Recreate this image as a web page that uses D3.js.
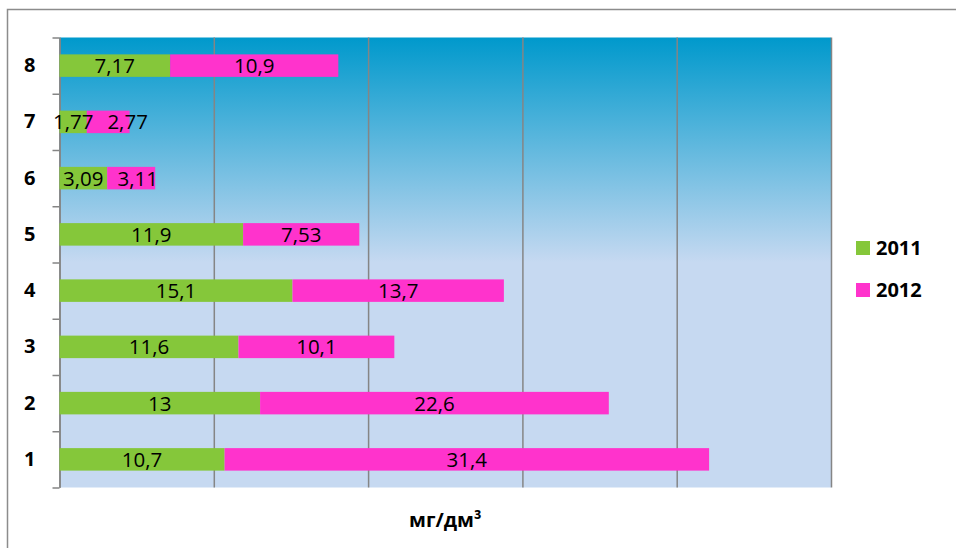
<!DOCTYPE html>
<html>
<head>
<meta charset="utf-8">
<script src="https://cdn.jsdelivr.net/npm/d3@7"></script>
<style>
  html, body { margin: 0; padding: 0; background: #fff; }
  svg { display: block; }
  text { font-family: "Open Sans", "DejaVu Sans", sans-serif; }
</style>
</head>
<body>
<svg id="chart" width="956" height="548"></svg>
<script>
const categories = ["1", "2", "3", "4", "5", "6", "7", "8"];
const values2011 = [10.7, 13, 11.6, 15.1, 11.9, 3.09, 1.77, 7.17];
const values2012 = [31.4, 22.6, 10.1, 13.7, 7.53, 3.11, 2.77, 10.9];
const seriesNames = ["2011", "2012"];
const seriesColors = ["#85c73a", "#ff33cc"];
const xTicks = [0, 10, 20, 30, 40, 50];
const axisTitle = "мг/дм³";

const svg = d3.select("#chart");
const plot = { left: 59.5, right: 831, top: 37.5, bottom: 487.5 };

// outer frame
svg.append("rect")
  .attr("x", 7.5).attr("y", 9.5)
  .attr("width", 1200).attr("height", 800)
  .attr("fill", "none").attr("stroke", "#8c8c8c").attr("stroke-width", 1.5);

// gradient background
const defs = svg.append("defs");
const grad = defs.append("linearGradient")
  .attr("id", "bg").attr("gradientUnits", "userSpaceOnUse")
  .attr("x1", 0).attr("x2", 0).attr("y1", plot.top).attr("y2", plot.bottom);
grad.append("stop").attr("offset", "0").attr("stop-color", "#0099cc");
grad.append("stop").attr("offset", "0.5").attr("stop-color", "#c6d9f1");
grad.append("stop").attr("offset", "1").attr("stop-color", "#c6d9f1");

svg.append("rect")
  .attr("x", plot.left).attr("y", plot.top)
  .attr("width", plot.right - plot.left).attr("height", plot.bottom - plot.top)
  .attr("fill", "url(#bg)");

const x = d3.scaleLinear().domain([0, 50]).range([plot.left, plot.right]);
const y = d3.scaleBand().domain(categories.slice().reverse()).range([plot.top, plot.bottom]);
const yLin = d3.scaleLinear().domain([0, categories.length]).range([plot.bottom, plot.top]);

// vertical gridlines
svg.append("g")
  .attr("transform", `translate(0,${plot.bottom})`)
  .call(d3.axisBottom(x).tickValues(xTicks).tickSize(-(plot.bottom - plot.top)).tickFormat(""))
  .call(g => g.select(".domain").remove())
  .call(g => g.selectAll("line").attr("stroke", "#858585").attr("stroke-width", 1.5));

// y axis tick marks at category boundaries
svg.append("g")
  .attr("transform", `translate(${plot.left},0)`)
  .call(d3.axisLeft(yLin).tickValues(d3.range(0, categories.length + 1)).tickSize(7).tickFormat("").tickSizeOuter(0))
  .call(g => g.selectAll("line").attr("stroke", "#858585").attr("stroke-width", 1.5))
  .call(g => g.select(".domain").attr("stroke", "#858585").attr("stroke-width", 1.5));

// y axis labels
svg.append("g")
  .attr("transform", `translate(${plot.left},0)`)
  .call(d3.axisLeft(y).tickSize(0).tickPadding(24))
  .call(g => g.select(".domain").remove())
  .call(g => g.selectAll("text")
    .attr("font-family", "'Open Sans', sans-serif")
    .attr("font-size", 20).attr("font-weight", "bold").attr("fill", "#000"));

// stacked bars
const rows = categories.map((c, i) => ({ cat: c, v: [values2011[i], values2012[i]] }));
const barH = y.bandwidth() * 0.4;
const segs = [];
rows.forEach(r => {
  let acc = 0;
  r.v.forEach((v, s) => {
    segs.push({ cat: r.cat, s, x0: acc, x1: acc + v, v });
    acc += v;
  });
});

svg.append("g").selectAll("rect").data(segs).join("rect")
  .attr("x", d => x(d.x0))
  .attr("y", d => y(d.cat) + (y.bandwidth() - barH) / 2)
  .attr("width", d => x(d.x1) - x(d.x0))
  .attr("height", barH)
  .attr("fill", d => seriesColors[d.s]);

const fmt = v => String(v).replace(".", ",");
const labels = svg.append("g").selectAll("text").data(segs).join("text")
  .attr("x", d => (x(d.x0) + x(d.x1)) / 2)
  .attr("y", d => y(d.cat) + y.bandwidth() / 2)
  .attr("dy", "0.36em")
  .attr("text-anchor", "middle")
  .attr("font-size", 20.5)
  .attr("fill", "#000")
  .text(d => fmt(d.v));

// nudge overlapping labels apart within each row
const minGap = 14;
categories.forEach(c => {
  const nodes = labels.filter(d => d.cat === c).nodes();
  for (let i = 1; i < nodes.length; i++) {
    const a = nodes[i - 1].getBBox(), b = nodes[i].getBBox();
    const deficit = (a.x + a.width + minGap) - b.x;
    if (deficit > 0) {
      const cur = +nodes[i].getAttribute("x");
      nodes[i].setAttribute("x", cur + deficit);
    }
  }
});

// legend
const legend = svg.append("g");
seriesNames.forEach((n, i) => {
  const ly = 248 + i * 42;
  legend.append("rect").attr("x", 856).attr("y", ly - 7).attr("width", 14).attr("height", 14)
    .attr("fill", seriesColors[i]);
  legend.append("text").attr("x", 876).attr("y", ly).attr("dy", "0.36em")
    .attr("font-size", 20).attr("font-weight", "bold").attr("fill", "#000").text(n);
});

// axis title
svg.append("text")
  .attr("x", (plot.left + plot.right) / 2).attr("y", 520).attr("dy", "0.36em")
  .attr("text-anchor", "middle").attr("font-size", 20).attr("font-weight", "bold")
  .attr("fill", "#000").text(axisTitle);
</script>
</body>
</html>
